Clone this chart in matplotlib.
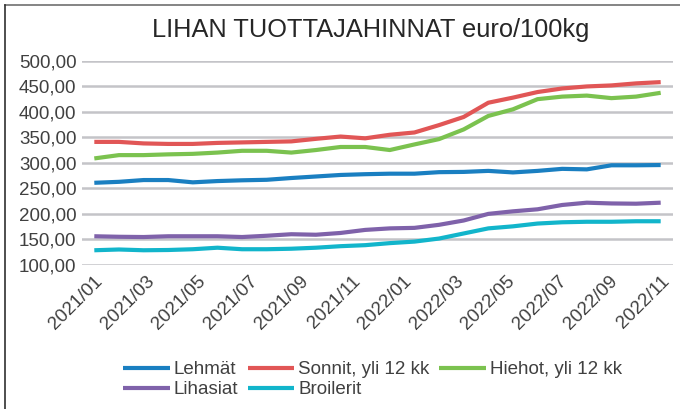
import numpy as np
import matplotlib.pyplot as plt
from matplotlib.lines import Line2D
from matplotlib.ticker import FuncFormatter

plt.rcParams['font.family'] = ['Liberation Sans', 'DejaVu Sans']

# Months 2021/01 .. 2022/12
months = [f"{y}/{m:02d}" for y in (2021, 2022) for m in range(1, 13)]
tick_labels = months[::2]

lehmat = [260.6, 262.5, 266, 266, 261.5, 264, 265.5, 266.5, 270, 273, 276, 277.5,
          278.5, 278.5, 281.5, 282, 284, 281, 284, 288, 287, 295, 295, 295.5]
sonnit = [341, 341, 338, 337, 337, 339, 340, 341, 342, 347, 351.5, 348,
          355, 359.5, 374, 390, 418, 428, 439, 446, 450, 452, 456, 458.5]
hiehot = [308.5, 315, 315, 316.5, 317.5, 320, 323.5, 323.5, 320, 325, 331, 331,
          325, 336, 346.5, 365.5, 392, 405, 425, 430, 432, 427, 430, 437.5]
lihasiat = [155.5, 154.5, 154, 155.5, 155.5, 155.5, 154, 156.5, 159.5, 158.5, 162, 168,
            171, 172, 178, 186.5, 199.5, 204.5, 208.5, 217, 221.5, 220, 219.5, 221.5]
broilerit = [128, 129.5, 128, 128.5, 130, 133, 130, 130, 131, 133, 136, 138,
             142, 145, 151, 161, 171, 175, 180.5, 183, 184, 184, 185, 185]

series = [
    ("Lehmät", lehmat, "#1a7fc1"),
    ("Sonnit, yli 12 kk", sonnit, "#e15656"),
    ("Hiehot, yli 12 kk", hiehot, "#7bc24f"),
    ("Lihasiat", lihasiat, "#7f62aa"),
    ("Broilerit", broilerit, "#12b5cb"),
]

W, H = 680, 409
fig = plt.figure(figsize=(W / 100, H / 100), dpi=100)
ax = fig.add_axes([82 / W, 1 - 264.5 / H, 591 / W, 203.5 / H])

x = list(range(len(months)))
lines = []
for name, vals, col in series:
    ln, = ax.plot(x, vals, color=col, linewidth=3, label=name, solid_capstyle='butt')
    lines.append(ln)

ax.set_xlim(-0.5, len(months) - 0.5)
ax.set_ylim(100, 500)
ax.set_yticks(range(100, 501, 50))
ax.yaxis.set_major_formatter(FuncFormatter(lambda v, p: f"{v:.2f}".replace('.', ',')))
# labels are spread over the whole month range in the original
ax.set_xticks(np.linspace(0, len(months) - 1, len(tick_labels)))
ax.set_xticklabels(tick_labels, rotation=45, ha='right', rotation_mode='anchor')

ax.grid(axis='y', color='#c4c4c8', linewidth=1.8)
ax.set_axisbelow(True)
for s in ax.spines.values():
    s.set_visible(False)
ax.tick_params(axis='both', length=0, labelsize=13.5, colors='#404040')
ax.tick_params(axis='y', pad=4)
ax.tick_params(axis='x', pad=6)

fig.text(371 / W, 1 - 30 / H, "LIHAN TUOTTAJAHINNAT euro/100kg", ha='center', va='center',
         fontsize=18.3, color='#262626')

# legend filled row by row: Lehmät, Sonnit, Hiehot / Lihasiat, Broilerit
order = [0, 3, 1, 4, 2]
fig.legend([lines[i] for i in order], [series[i][0] for i in order],
           loc='upper left', bbox_to_anchor=(123 / W, 1 - 361 / H), ncol=3, frameon=False,
           fontsize=13.5, handlelength=2.5, handletextpad=0.2, columnspacing=0.5,
           labelspacing=0.15, borderpad=0, borderaxespad=0, labelcolor='#404040')

# chart area border (top and left only visible)
fig.add_artist(Line2D([5 / W, 1], [1 - 4.7 / H, 1 - 4.7 / H], color='#707070', linewidth=1.2))
fig.add_artist(Line2D([5 / W, 5 / W], [0, 1 - 4.7 / H], color='#303030', linewidth=1.2))

fig.savefig("out.png", dpi=100)
